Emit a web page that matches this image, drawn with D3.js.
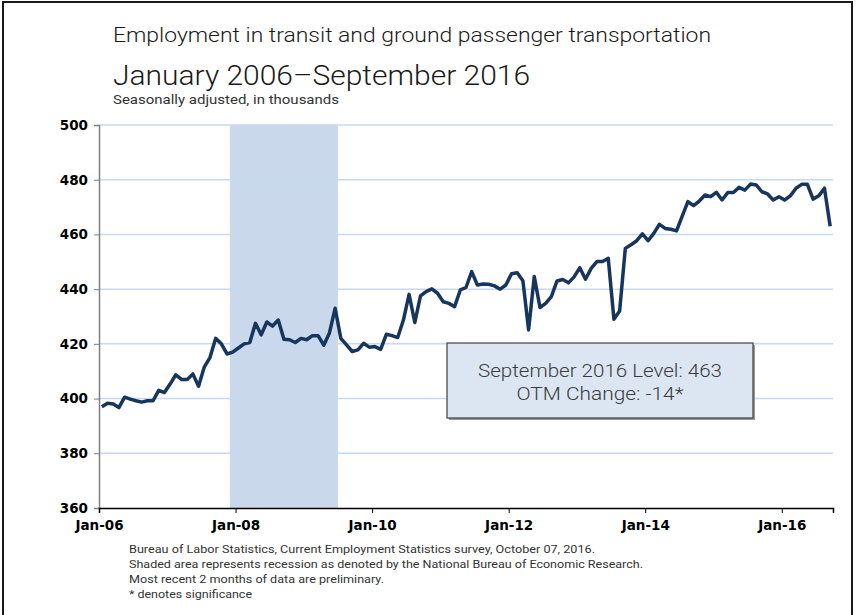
<!DOCTYPE html>
<html>
<head>
<meta charset="utf-8">
<script src="https://cdn.jsdelivr.net/npm/d3@7"></script>
<style>
  body { margin: 0; background: #fff; }
  .chart text { font-family: "Roboto", "Liberation Sans", sans-serif; }
  .axis text { font-family: "DejaVu Sans", Verdana, sans-serif; font-weight: bold; font-size: 13.5px; fill: #000; }
</style>
</head>
<body>
<div id="chLine"></div>
<script>
// monthly values, Jan 2006 .. Sep 2016 (thousands)
var startYear = 2006;
var values = [
  397, 398.3, 398, 396.7, 400.5, 399.8, 399.2, 398.7, 399.2, 399.2, 403, 402.2,
  405.3, 408.7, 407, 407, 409, 404.5, 411.5, 415, 422, 420, 416.3, 417,
  418.5, 420, 420.5, 427.5, 423.3, 428, 426.5, 428.7, 421.7, 421.5, 420.5, 422,
  421.5, 423, 423, 419.5, 424, 433, 422, 419.6, 417.2, 417.8, 420.2, 418.8,
  419, 418, 423.5, 423, 422.3, 428.7, 438.1, 427.8, 437.5, 439.1, 440.1, 438.5,
  435.4, 434.8, 433.6, 439.7, 440.6, 446.4, 441.5, 441.9, 441.8, 441.2, 440, 441.5,
  445.6, 446, 443.1, 425.1, 444.6, 433.3, 434.8, 437.3, 443, 443.5, 442.3, 444.5,
  447.8, 443.6, 447.6, 450.1, 450.1, 451.3, 429, 432, 454.9, 456.2, 457.7, 460.2,
  457.7, 460.4, 463.7, 462.2, 461.9, 461.3, 466.7, 472, 470.5, 472.2, 474.4, 473.8,
  475.4, 472.6, 475.3, 475.3, 477.2, 476.2, 478.4, 478.1, 475.6, 474.8, 472.6, 473.8,
  472.6, 474.1, 476.9, 478.3, 478.3, 472.9, 474.1, 476.9, 463
];
var xTickMonths = [0, 24, 48, 72, 96, 120];
var xTickLabels = ["Jan-06", "Jan-08", "Jan-10", "Jan-12", "Jan-14", "Jan-16"];
var yTicks = [360, 380, 400, 420, 440, 460, 480, 500];
// recession Dec 2007 - Jun 2009, as month offsets from Jan 2006
var recession = [23, 42];

var titleLines = ["Employment in transit and ground passenger transportation", "January 2006\u2013September 2016", "Seasonally adjusted, in thousands"];
var boxLines = ["September 2016 Level: 463", "OTM Change: -14*"];
var notes = [
  "Bureau of Labor Statistics, Current Employment Statistics survey, October 07, 2016.",
  "Shaded area represents recession as denoted by the National Bureau of Economic Research.",
  "Most recent 2 months of data are preliminary.",
  "* denotes significance"
];

var width = 864;
var height = 615;
var plotLeft = 99, plotRight = 833, plotTop = 125, plotBottom = 508;

var svg = d3
  .select("#chLine")
  .append("svg")
  .attr("width", width)
  .attr("height", height)
  .attr("class", "chart");

// outer frame
svg.append("rect")
  .attr("x", 3).attr("y", 2)
  .attr("width", 849).attr("height", 640)
  .attr("fill", "none")
  .attr("stroke", "#1a1a1a")
  .attr("stroke-width", 2);

var xScale = d3.scaleLinear().domain([0, values.length]).range([plotLeft, plotRight]);
var yScale = d3.scaleLinear().domain([360, 500]).range([plotBottom, plotTop]);

// recession shading
svg.append("rect")
  .attr("x", xScale(recession[0]))
  .attr("y", yScale(500))
  .attr("width", xScale(recession[1]) - xScale(recession[0]))
  .attr("height", yScale(360) - yScale(500))
  .attr("fill", "#c9d8ea");

// gridlines
svg.append("g")
  .selectAll("line")
  .data(yTicks.slice(1))
  .enter()
  .append("line")
  .attr("x1", plotLeft).attr("x2", plotRight)
  .attr("y1", function(d) { return yScale(d); })
  .attr("y2", function(d) { return yScale(d); })
  .attr("stroke", "#c6d9f1")
  .attr("stroke-width", 1.5);

var yAxis = d3.axisLeft(yScale).tickValues(yTicks).tickSize(5).tickFormat(d3.format("d"));
var xAxis = d3.axisBottom(xScale)
  .tickValues(xTickMonths)
  .tickSize(5)
  .tickFormat(function(d, i) { return xTickLabels[i]; });

var gy = svg.append("g")
  .attr("class", "axis yAxis")
  .attr("transform", "translate(" + plotLeft + ",0)")
  .call(yAxis);
gy.select(".domain").attr("stroke", "#7f7f7f").attr("stroke-width", 1.5);
gy.selectAll(".tick line").attr("stroke", "#7f7f7f");
gy.selectAll(".tick text").attr("x", -11);

var gx = svg.append("g")
  .attr("class", "axis xAxis")
  .attr("transform", "translate(0," + plotBottom + ")")
  .call(xAxis);
gx.select(".domain").attr("stroke", "#000").attr("stroke-width", 1.5);
gx.selectAll(".tick line").attr("stroke", "#000");
gx.selectAll(".tick text").attr("y", 12);

// the series, each month plotted at mid-month
var line = d3.line()
  .x(function(d, i) { return xScale(i + 0.5); })
  .y(function(d) { return yScale(d); });

svg.append("path")
  .datum(values)
  .attr("d", line)
  .attr("fill", "none")
  .attr("stroke", "#17365d")
  .attr("stroke-width", 3.5)
  .attr("stroke-linejoin", "round");

// titles
svg.append("text")
  .attr("x", 113).attr("y", 42)
  .attr("font-size", 20)
  .attr("font-weight", 300)
  .attr("fill", "#1a1a1a")
  .attr("textLength", 598)
  .attr("lengthAdjust", "spacingAndGlyphs")
  .text(titleLines[0]);

svg.append("text")
  .attr("x", 113).attr("y", 85)
  .attr("font-size", 28)
  .attr("font-weight", 300)
  .attr("fill", "#1a1a1a")
  .attr("textLength", 417)
  .attr("lengthAdjust", "spacingAndGlyphs")
  .text(titleLines[1]);

svg.append("text")
  .attr("x", 113).attr("y", 104)
  .attr("font-size", 13)
  .attr("fill", "#333")
  .attr("textLength", 226)
  .attr("lengthAdjust", "spacingAndGlyphs")
  .text(titleLines[2]);

// annotation box
var box = svg.append("g").attr("transform", "translate(447,343)");
box.append("rect")
  .attr("x", 2).attr("y", 2)
  .attr("width", 306).attr("height", 75)
  .attr("fill", "#999");
box.append("rect")
  .attr("width", 306).attr("height", 75)
  .attr("fill", "#dce6f2")
  .attr("stroke", "#404040")
  .attr("stroke-width", 1.2);
box.selectAll("text.boxText")
  .data(boxLines)
  .enter()
  .append("text")
  .attr("class", "boxText")
  .attr("x", 153)
  .attr("y", function(d, i) { return 34 + i * 23; })
  .attr("text-anchor", "middle")
  .attr("font-size", 18)
  .attr("font-weight", 300)
  .attr("fill", "#3a3a3a")
  .attr("textLength", function(d, i) { return i === 0 ? 244 : 167; })
  .attr("lengthAdjust", "spacingAndGlyphs")
  .text(function(d) { return d; });

// footnotes
var noteWidths = [466, 514, 255, 123];
svg.selectAll("text.note")
  .data(notes)
  .enter()
  .append("text")
  .attr("class", "note")
  .attr("x", 129)
  .attr("y", function(d, i) { return 553 + i * 15; })
  .attr("font-size", 11.5)
  .attr("fill", "#333")
  .attr("textLength", function(d, i) { return noteWidths[i]; })
  .attr("lengthAdjust", "spacingAndGlyphs")
  .text(function(d) { return d; });
</script>
</body>
</html>
